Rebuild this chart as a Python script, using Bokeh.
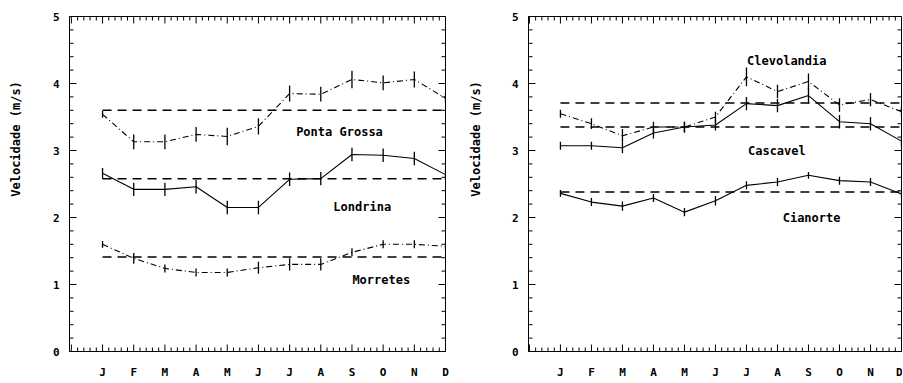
import math
import numpy as np
from bokeh.plotting import figure
from bokeh.layouts import row
from bokeh.models import Range1d, FixedTicker
from bokeh.embed import file_html
from bokeh.resources import INLINE
from bokeh.core.properties import value

# ---------------- data ----------------
months = list(range(1, 13))
month_labels = ["J", "F", "M", "A", "M", "J", "J", "A", "S", "O", "N", "D"]
y_ticks = [0, 1, 2, 3, 4, 5]
y_title = "Velocidade (m/s)"

# left panel
ponta_grossa = [3.54, 3.13, 3.13, 3.24, 3.21, 3.36, 3.85, 3.84, 4.06, 4.01, 4.06, 3.78]
londrina = [2.66, 2.42, 2.42, 2.46, 2.15, 2.15, 2.57, 2.58, 2.94, 2.93, 2.88, 2.64]
morretes = [1.60, 1.39, 1.24, 1.18, 1.18, 1.25, 1.30, 1.30, 1.48, 1.60, 1.60, 1.57]
err_ponta_grossa = [0.05, 0.11, 0.11, 0.11, 0.13, 0.12, 0.12, 0.11, 0.13, 0.11, 0.12, 0.08]
err_londrina = [0.08, 0.10, 0.10, 0.10, 0.10, 0.10, 0.10, 0.10, 0.10, 0.10, 0.10, 0.08]
err_morretes = [0.05, 0.08, 0.06, 0.06, 0.06, 0.09, 0.09, 0.09, 0.06, 0.06, 0.06, 0.05]
mean_ponta_grossa = 3.60
mean_londrina = 2.58
mean_morretes = 1.41

# right panel
clevolandia = [3.55, 3.40, 3.22, 3.35, 3.35, 3.50, 4.10, 3.88, 4.03, 3.68, 3.76, 3.58]
cascavel = [3.07, 3.07, 3.04, 3.26, 3.35, 3.38, 3.70, 3.67, 3.82, 3.43, 3.40, 3.14]
cianorte = [2.36, 2.23, 2.17, 2.29, 2.08, 2.25, 2.48, 2.53, 2.63, 2.55, 2.53, 2.35]
err_clevolandia = [0.06, 0.08, 0.10, 0.08, 0.08, 0.08, 0.14, 0.10, 0.12, 0.10, 0.10, 0.08]
err_cascavel = [0.06, 0.06, 0.08, 0.08, 0.08, 0.08, 0.10, 0.10, 0.12, 0.10, 0.10, 0.08]
err_cianorte = [0.05, 0.06, 0.07, 0.06, 0.06, 0.07, 0.06, 0.06, 0.05, 0.06, 0.06, 0.05]
mean_clevolandia = 3.71
mean_cascavel = 3.35
mean_cianorte = 2.38

FONT = "DejaVu Sans Mono"
DASHDOT = "6 3 1 3"
MEAN_DASH = "9 6"
HEIGHT = 383
B_TOP, B_BOTTOM = 16, 32


def title_strip(width, text_x):
    """narrow figure that only carries the rotated y-axis title"""
    s = figure(width=width, height=HEIGHT, output_backend="svg", toolbar_location=None,
               x_range=Range1d(0, width), y_range=Range1d(HEIGHT, 0),
               min_border=0, outline_line_color=None,
               background_fill_color="white", border_fill_color="white")
    s.axis.visible = False
    s.grid.visible = False
    s.text(x=[text_x], y=[140], text=[y_title], angle=math.pi / 2,
           text_align="center", text_baseline="middle",
           text_font=value(FONT), text_font_size="12px", text_font_style="bold",
           text_color="black")
    return s


def make_panel(width, border_left, border_right, x_start, series, label_pos):
    x_end = 12.0
    p = figure(width=width, height=HEIGHT, output_backend="svg", toolbar_location=None,
               x_range=Range1d(x_start, x_end), y_range=Range1d(0, 5),
               min_border_left=border_left, min_border_right=border_right,
               min_border_top=B_TOP, min_border_bottom=B_BOTTOM,
               background_fill_color="white", border_fill_color="white",
               outline_line_color="black", outline_line_width=1)
    p.grid.visible = False

    frame_w = width - border_left - border_right
    frame_h = HEIGHT - B_TOP - B_BOTTOM
    px_x = (x_end - x_start) / frame_w   # data units per pixel
    px_y = 5.0 / frame_h

    # axes: labels only (ticks drawn inside the frame below)
    for ax in (p.xaxis[0], p.yaxis[0]):
        ax.axis_line_color = "black"
        ax.major_tick_line_color = None
        ax.minor_tick_line_color = None
        ax.major_tick_in = 0
        ax.major_tick_out = 0
        ax.minor_tick_in = 0
        ax.minor_tick_out = 0
        ax.major_label_text_font = FONT
        ax.major_label_text_font_style = "bold"
        ax.major_label_text_font_size = "11px"
        ax.major_label_text_color = "black"
    p.xaxis.ticker = FixedTicker(ticks=months)
    p.xaxis.major_label_overrides = {m: lab for m, lab in zip(months, month_labels)}
    p.xaxis.major_label_standoff = 14
    p.yaxis.ticker = FixedTicker(ticks=y_ticks)
    p.yaxis.major_label_standoff = 10

    # inward ticks on all four sides
    x_major = [0] + months
    x_minor = [v for v in np.round(np.arange(0, 12.01, 0.2), 2) if abs(v - round(v)) > 1e-6]
    y_major = y_ticks
    y_minor = [v for v in np.round(np.arange(0, 5.01, 0.2), 2) if abs(v - round(v)) > 1e-6]
    for xs, ln in ((x_major, 7), (x_minor, 4)):
        xs = [v for v in xs if v >= x_start]
        n = len(xs)
        p.segment(x0=xs, y0=[0] * n, x1=xs, y1=[ln * px_y] * n, line_color="black", line_width=1)
        p.segment(x0=xs, y0=[5] * n, x1=xs, y1=[5 - ln * px_y] * n, line_color="black", line_width=1)
    for ys, ln in ((y_major, 7), (y_minor, 4)):
        n = len(ys)
        p.segment(x0=[x_start] * n, y0=ys, x1=[x_start + ln * px_x] * n, y1=ys, line_color="black", line_width=1)
        p.segment(x0=[x_end] * n, y0=ys, x1=[x_end - ln * px_x] * n, y1=ys, line_color="black", line_width=1)

    for vals, errs, mean, dash in series:
        lo = [v - e for v, e in zip(vals, errs)]
        hi = [v + e for v, e in zip(vals, errs)]
        p.segment(x0=months, y0=lo, x1=months, y1=hi, line_color="black", line_width=1.3)
        p.line(months, vals, line_color="black", line_width=1.1, line_dash=dash)
        p.segment(x0=[months[0]], y0=[mean], x1=[x_end], y1=[mean],
                  line_color="black", line_width=1.5, line_dash=MEAN_DASH)

    for name, lx, ly in label_pos:
        p.text(x=[lx], y=[ly], text=[name], text_align="center", text_baseline="middle",
               text_font=value(FONT), text_font_size="12px", text_font_style="bold",
               text_color="black")
    return p


strip_left = title_strip(25, 15)
left = make_panel(
    440, 44, 20, -0.06,
    [(ponta_grossa, err_ponta_grossa, mean_ponta_grossa, DASHDOT),
     (londrina, err_londrina, mean_londrina, "solid"),
     (morretes, err_morretes, mean_morretes, DASHDOT)],
    [("Ponta Grossa", 8.6, 3.28), ("Londrina", 9.33, 2.16), ("Morretes", 9.94, 1.07)])

strip_right = title_strip(20, 10)
right = make_panel(
    417, 43, 1, -0.03,
    [(clevolandia, err_clevolandia, mean_clevolandia, DASHDOT),
     (cascavel, err_cascavel, mean_cascavel, "solid"),
     (cianorte, err_cianorte, mean_cianorte, "solid")],
    [("Clevolandia", 8.3, 4.34), ("Cascavel", 7.98, 2.99), ("Cianorte", 9.1, 2.0)])

layout = row(strip_left, left, strip_right, right)
open("out.html", "w").write(file_html(layout, INLINE))
